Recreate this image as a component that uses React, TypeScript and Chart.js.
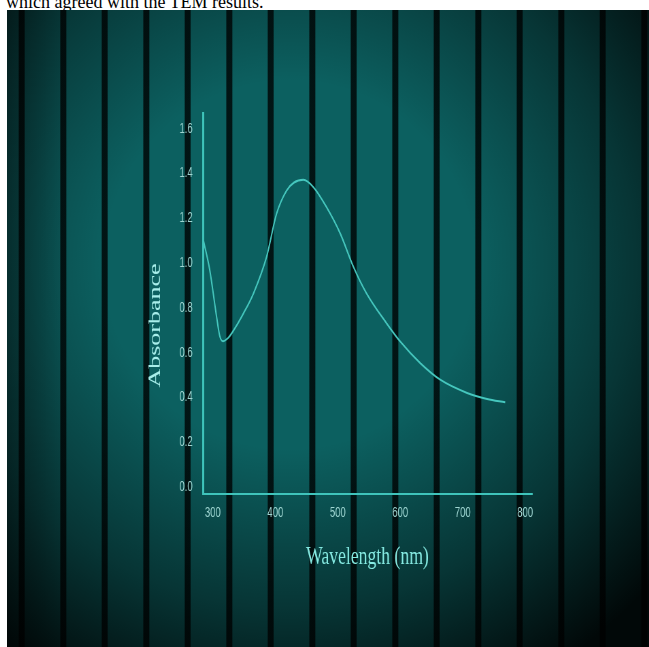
import React, { useEffect, useRef } from 'react';
import { Chart, registerables } from 'chart.js';

Chart.register(...registerables);

// ---- data ----
const wavelengths = [285, 295, 306, 311, 316, 324, 332, 349, 365, 386, 402, 418, 430, 445, 461, 482, 504, 525, 546, 578, 600, 632, 664, 707, 739, 768];
const absorbance = [1.10, 0.97, 0.76, 0.675, 0.652, 0.665, 0.695, 0.776, 0.865, 1.028, 1.221, 1.324, 1.36, 1.372, 1.339, 1.25, 1.132, 0.984, 0.865, 0.732, 0.65, 0.554, 0.48, 0.421, 0.394, 0.379];
const xTickValues = [300, 400, 500, 600, 700, 800];
const yTickValues = [0, 0.2, 0.4, 0.6, 0.8, 1.0, 1.2, 1.4, 1.6];
const xTitle = 'Wavelength (nm)';
const yTitle = 'Absorbance';
const captionText = 'which agreed with the TEM results.';

// ---- layout / style ----
const SQUISH = 0.68;
const CSS_W = 642;
const CSS_H = 637;
const CANVAS_W = Math.round(CSS_W / SQUISH);
const AXIS_COLOR = '#3fc4bb';
const LINE_COLOR = '#46c7be';
const TICK_COLOR = '#9fd6d2';
const TITLE_COLOR = '#86ebe3';

const yTitlePlugin = {
  id: 'yTitleCustom',
  afterDraw(chart: any) {
    const { ctx, chartArea } = chart;
    ctx.save();
    const x = chartArea.left - 63;
    const y = (chartArea.top + chartArea.bottom) / 2 + 22;
    ctx.translate(x, y);
    ctx.rotate(-Math.PI / 2);
    ctx.font = '26px "Liberation Serif", "Times New Roman", serif';
    ctx.fillStyle = '#a8eeea';
    ctx.textAlign = 'center';
    ctx.textBaseline = 'alphabetic';
    ctx.fillText(yTitle, 0, 0);
    ctx.restore();
  },
};

export default function App() {
  const canvasRef = useRef<HTMLCanvasElement | null>(null);

  useEffect(() => {
    document.body.style.overflow = 'hidden';
    const canvas = canvasRef.current;
    if (!canvas) return;
    const chart = new Chart(canvas, {
      type: 'line',
      data: {
        datasets: [
          {
            data: wavelengths.map((x, i) => ({ x, y: absorbance[i] })),
            borderColor: LINE_COLOR,
            borderWidth: 2,
            pointRadius: 0,
            fill: false,
            cubicInterpolationMode: 'monotone',
          },
        ],
      },
      options: {
        animation: false,
        responsive: false,
        devicePixelRatio: 1,
        events: [],
        layout: { padding: { left: 0, right: 172, top: 103, bottom: 0 } },
        plugins: { legend: { display: false }, tooltip: { enabled: false } },
        scales: {
          x: {
            type: 'linear',
            min: 284,
            max: 811,
            afterBuildTicks: (s: any) => {
              s.ticks = xTickValues.map((v) => ({ value: v }));
            },
            afterFit: (s: any) => {
              s.height = 153;
            },
            grid: { display: false, drawTicks: false },
            border: { display: true, color: AXIS_COLOR, width: 2 },
            ticks: {
              color: TICK_COLOR,
              font: { family: '"Liberation Sans", Arial, sans-serif', size: 14 },
              padding: 11,
              maxRotation: 0,
              autoSkip: false,
              callback: (v: any) => String(v),
            },
            title: {
              display: true,
              text: xTitle,
              color: TITLE_COLOR,
              font: { family: '"Liberation Serif", "Times New Roman", serif', size: 26 },
              padding: { top: 0, bottom: 74 },
            },
          },
          y: {
            type: 'linear',
            min: -0.03,
            max: 1.67,
            afterBuildTicks: (s: any) => {
              s.ticks = yTickValues.map((v) => ({ value: v }));
            },
            afterFit: (s: any) => {
              s.width = 288;
            },
            grid: { display: false, drawTicks: false },
            border: { display: true, color: AXIS_COLOR, width: 3 },
            ticks: {
              color: TICK_COLOR,
              font: { family: '"Liberation Sans", Arial, sans-serif', size: 14 },
              padding: 15,
              autoSkip: false,
              callback: (v: any) => Number(v).toFixed(1),
            },
          },
        },
      },
      plugins: [yTitlePlugin],
    } as any);
    return () => chart.destroy();
  }, []);

  const bg = [
    'radial-gradient(ellipse 72% 72% at 44% 40%, rgba(0,0,0,0) 40%, rgba(0,0,0,0.45) 75%, rgba(0,0,0,0.92) 105%)',
    'linear-gradient(90deg, rgba(0,0,0,0.35) 0px, rgba(0,0,0,0) 60px)',
    'repeating-linear-gradient(90deg, rgba(0,0,0,0) 0px, rgba(0,0,0,0) 11px, rgba(1,14,14,0.92) 12.5px, rgba(1,14,14,0.92) 17px, rgba(0,0,0,0) 18.5px, rgba(0,0,0,0) 41.5px)',
    '#0c6060',
  ].join(', ');

  return (
    <div>
      <div
        style={{
          position: 'absolute',
          left: 6,
          top: -8,
          font: '18px "Liberation Serif", "Times New Roman", serif',
          lineHeight: '20px',
          color: '#000',
          whiteSpace: 'nowrap',
        }}
      >
        {captionText}
      </div>
      <div
        style={{
          position: 'absolute',
          left: 7,
          top: 10,
          width: CSS_W,
          height: CSS_H,
          background: bg,
          overflow: 'hidden',
        }}
      >
        <canvas
          ref={canvasRef}
          width={CANVAS_W}
          height={CSS_H}
          style={{ width: CSS_W + 'px', height: CSS_H + 'px', display: 'block' }}
        />
      </div>
    </div>
  );
}
